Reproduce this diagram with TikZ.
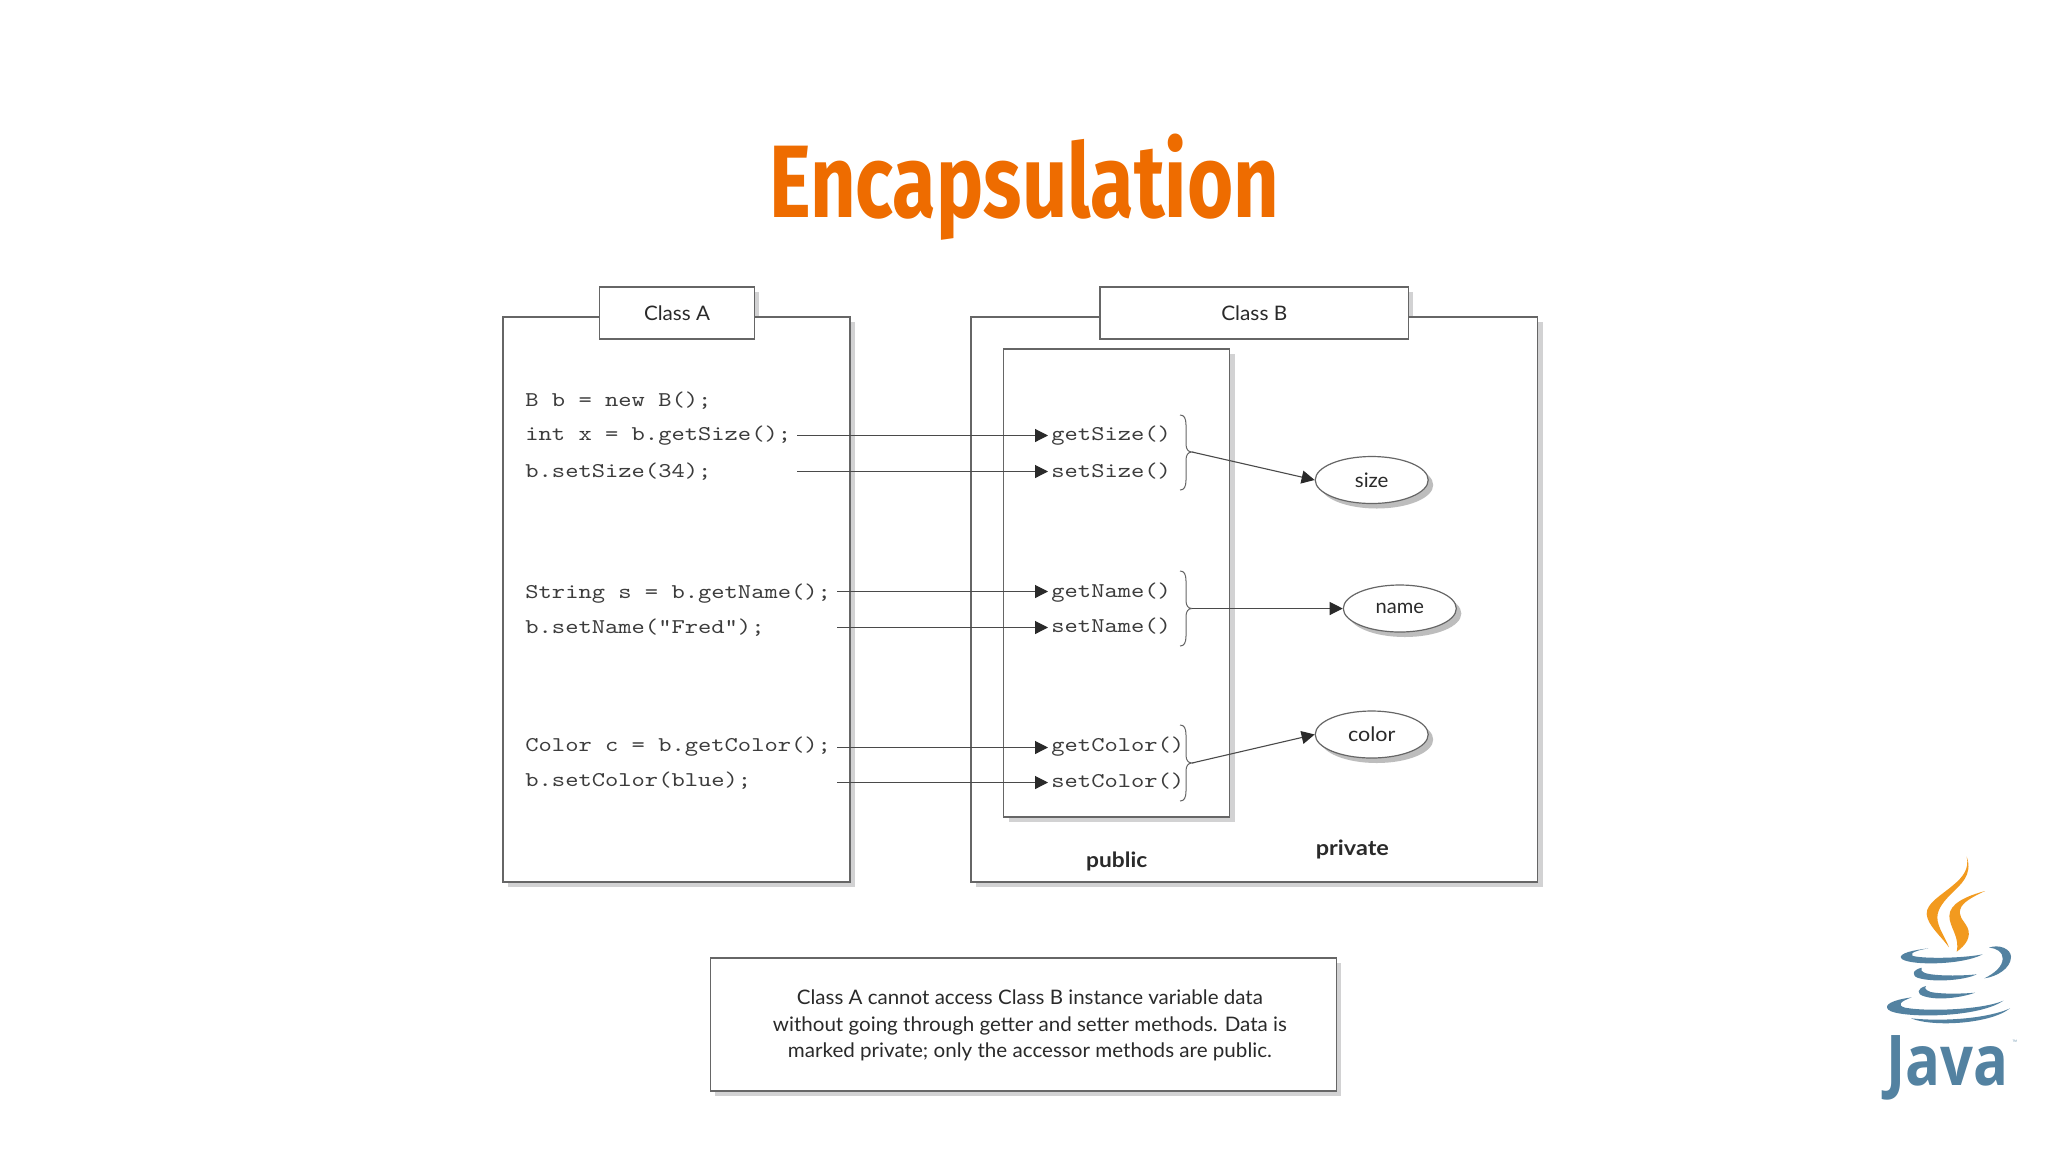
\documentclass[tikz,border=0pt]{standalone}
\usepackage{fontspec}
\setmainfont{Lato}
\newfontfamily\titlefont{Fira Sans}
\newfontfamily\logofont{Open Sans}
\usetikzlibrary{arrows.meta,shapes.geometric,shadows}
\definecolor{titleorange}{HTML}{EE6C00}
\definecolor{linegray}{HTML}{666666}
\definecolor{inkdark}{HTML}{2A2A2A}
\definecolor{codegray}{HTML}{3C3C3C}
\definecolor{shadowgray}{HTML}{D2D2D3}
\definecolor{shadowdark}{HTML}{BDBDBD}
\definecolor{javablue}{HTML}{5382A1}
\definecolor{javaorange}{HTML}{F29A1F}
\newcommand{\fitw}[2]{\resizebox{#1pt}{\height}{#2}}
\newcommand{\codetext}[1]{\scalebox{1.205}[1]{\ttfamily\fontsize{10.5}{12}\selectfont #1}}
\newcommand{\curlybrace}[4]{\draw[bracestyle] (1180,#1) .. controls (1184,#1) and (1186,{#1+3}) .. (1186,{#1+10}) -- (1186,{#2-8}) .. controls (1186,{#2-3}) and (1188,#2) .. (#4) .. controls (1188,#2) and (1186,{#2+3}) .. (1186,{#2+8}) -- (1186,{#3-10}) .. controls (1186,{#3-3}) and (1184,#3) .. (1180,#3);}
\tikzset{
  x=0.5pt,y=-0.5pt,
  boxstyle/.style={draw=linegray,line width=0.65pt,fill=white,inner sep=0pt,rectangle},
  shadowed/.style={general shadow={fill=shadowgray,shadow xshift=2.5pt,shadow yshift=-2.5pt}},
  labeltext/.style={font=\fontsize{10}{12}\selectfont,text=inkdark,inner sep=0pt},
  ovalstyle/.style={ellipse,draw=linegray,line width=0.6pt,fill=white,inner sep=0pt,minimum width=56.5pt,minimum height=23.5pt,font=\fontsize{10}{12}\selectfont,text=inkdark,general shadow={fill=shadowdark,shadow xshift=2.5pt,shadow yshift=-2.5pt}},
  codenode/.style={anchor=base west,inner sep=0pt,text=codegray},
  calllink/.style={draw=inkdark!85,line width=0.55pt,-{Triangle[length=6.5pt,width=6.5pt,color=inkdark]}},
  bracestyle/.style={draw=linegray,line width=0.5pt},
  boldlabel/.style={anchor=base,inner sep=0pt,text=inkdark,font=\fontsize{10.5}{12}\selectfont\bfseries},
  javaink/.style={fill=javablue,draw=none},
  flameink/.style={fill=javaorange,draw=none},
}
\begin{document}
\begin{tikzpicture}
\useasboundingbox (0,0) rectangle (2048,1152);
\fill[white] (0,0) rectangle (2048,1152);

% title
\node[anchor=base,inner sep=0pt,text=titleorange,font=\titlefont\bfseries\fontsize{51.5}{60}\selectfont] (title) at (1024,217) {\fitw{255}{Encapsulation}};

% tab shadows that show above the outer boxes
\fill[shadowgray] (754,292) rectangle (759,325);
\fill[shadowgray] (1408,292) rectangle (1413,325);

% class boxes
\node[boxstyle,shadowed,minimum width=173.5pt,minimum height=282.5pt] (classA) at (676.5,599.5) {};
\node[boxstyle,shadowed,minimum width=283.3pt,minimum height=282.5pt] (classB) at (1254.3,599.5) {};
\node[boxstyle,labeltext,minimum width=77.5pt,minimum height=26pt] (tabA) at (677,313) {\fitw{33}{Class A}};
\node[boxstyle,labeltext,minimum width=154.3pt,minimum height=26pt] (tabB) at (1254.3,313) {\fitw{33}{Class B}};
\node[boxstyle,shadowed,minimum width=112.9pt,minimum height=234pt] (publicbox) at (1116.7,583) {};

% code lines in class A
\node[codenode] (c0) at (525,406) {\codetext{B b = new B();}};
\node[codenode] (c1) at (525,440) {\codetext{int x = b.getSize();}};
\node[codenode] (c2) at (525,477) {\codetext{b.setSize(34);}};
\node[codenode] (c3) at (525,598) {\codetext{String s = b.getName();}};
\node[codenode] (c4) at (525,633) {\codetext{b.setName("Fred");}};
\node[codenode] (c5) at (525,751) {\codetext{Color c = b.getColor();}};
\node[codenode] (c6) at (525,786) {\codetext{b.setColor(blue);}};

% methods in class B
\node[codenode] (m1) at (1051,440) {\codetext{getSize()}};
\node[codenode] (m2) at (1051,477) {\codetext{setSize()}};
\node[codenode] (m3) at (1051,597) {\codetext{getName()}};
\node[codenode] (m4) at (1051,632) {\codetext{setName()}};
\node[codenode] (m5) at (1051,751) {\codetext{getColor()}};
\node[codenode] (m6) at (1051,787.5) {\codetext{setColor()}};

% connector start points
\coordinate (s1) at (797,435.5);
\coordinate (s2) at (797,471.5);
\coordinate (s3) at (837,591.5);
\coordinate (s4) at (837,627.5);
\coordinate (s5) at (837,747.5);
\coordinate (s6) at (837,782.5);
\draw[calllink,shorten >=1.5pt] (s1) -- (s1 -| m1.west);
\draw[calllink,shorten >=1.5pt] (s2) -- (s2 -| m2.west);
\draw[calllink,shorten >=1.5pt] (s3) -- (s3 -| m3.west);
\draw[calllink,shorten >=1.5pt] (s4) -- (s4 -| m4.west);
\draw[calllink,shorten >=1.5pt] (s5) -- (s5 -| m5.west);
\draw[calllink,shorten >=1.5pt] (s6) -- (s6 -| m6.west);

% private fields
\node[ovalstyle] (size) at (1371.7,480) {\fitw{16.8}{size}};
\node[ovalstyle] (name) at (1399.8,608.5) {\fitw{24.2}{name}};
\node[ovalstyle] (color) at (1371.7,734.5) {\raisebox{-1.2pt}{\fitw{23.7}{color}}};

% braces
\coordinate (b1) at (1192,452);
\coordinate (b2) at (1192,608.5);
\coordinate (b3) at (1192,763);
\curlybrace{415}{452}{490}{b1}
\curlybrace{571}{608.5}{646}{b2}
\curlybrace{725}{763}{801}{b3}
\draw[calllink] (b1) -- (size.west);
\draw[calllink] (b2) -- (name.west);
\draw[calllink] (b3) -- (color.west);

% area labels
\node[boldlabel] (publiclabel) at (1116.7,867) {\fitw{30.5}{public}};
\node[boldlabel] (privatelabel) at (1352.4,855) {\fitw{36.5}{private}};

% note box
\node[boxstyle,shadowed,minimum width=313pt,minimum height=66.5pt,align=center,text=inkdark,font=\fontsize{10}{13.25}\selectfont] (note) at (1023.4,1024.5)
  {\hspace*{6.5pt}\rule{0pt}{8.6pt}\fitw{233}{Class A cannot access Class B instance variable data}\\
   \hspace*{6.5pt}\fitw{257}{without going through getter and setter methods. Data is}\\
   \hspace*{6.5pt}\fitw{242}{marked private; only the accessor methods are public.}};

% Java logo
\begin{scope}[shift={(1850,840)},x=0.16667pt,y=-0.16667pt]
  \fill[flameink] (350,50) .. controls (370,105) and (330,135) .. (305,160) .. controls (285,180) and (262,205) .. (262,232) .. controls (262,262) and (285,290) .. (297,322) .. controls (270,285) and (232,255) .. (230,222) .. controls (228,190) and (275,165) .. (310,135) .. controls (340,110) and (358,85) .. (350,50) -- cycle;
  \fill[flameink] (405,153) .. controls (350,168) and (298,190) .. (298,228) .. controls (298,262) and (330,290) .. (320,335) .. controls (348,315) and (365,290) .. (352,262) .. controls (340,238) and (320,228) .. (334,200) .. controls (347,180) and (380,165) .. (405,153) -- cycle;
  \fill[javaink] (235,325) .. controls (190,330) and (146,340) .. (153,354) .. controls (165,376) and (330,378) .. (398,343) .. controls (330,356) and (210,356) .. (187,347) .. controls (178,338) and (205,330) .. (235,325) -- cycle;
  \fill[javaink] (417,323) .. controls (445,312) and (482,325) .. (483,350) .. controls (483,385) and (440,410) .. (403,415) .. controls (433,400) and (458,380) .. (458,355) .. controls (458,335) and (440,325) .. (417,323) -- cycle;
  \fill[javaink] (215,383) .. controls (185,390) and (185,408) .. (205,414) .. controls (250,427) and (340,422) .. (380,403) .. controls (330,408) and (260,408) .. (228,400) .. controls (214,395) and (212,390) .. (215,383) -- cycle;
  \fill[javaink] (228,438) .. controls (200,445) and (200,462) .. (220,468) .. controls (260,482) and (330,474) .. (375,458) .. controls (330,462) and (270,462) .. (242,456) .. controls (227,450) and (222,445) .. (228,438) -- cycle;
  \fill[javaink] (185,472) .. controls (125,480) and (100,495) .. (115,509) .. controls (140,534) and (380,537) .. (460,482) .. controls (400,508) and (240,516) .. (165,503) .. controls (140,495) and (150,485) .. (185,472) -- cycle;
  \fill[javaink] (183,535) .. controls (250,562) and (420,552) .. (480,505) .. controls (420,533) and (290,546) .. (183,535) -- cycle;
\end{scope}
\node[anchor=base,inner sep=0pt,text=javablue,font=\logofont\bfseries\fontsize{35}{40}\selectfont] (javaword) at (1947,1085) {\fitw{61}{Java}};
\node[inner sep=0pt,text=javablue!70,font=\logofont\fontsize{3}{4}\selectfont] (tm) at (2015,1042) {™};
\end{tikzpicture}
\end{document}
